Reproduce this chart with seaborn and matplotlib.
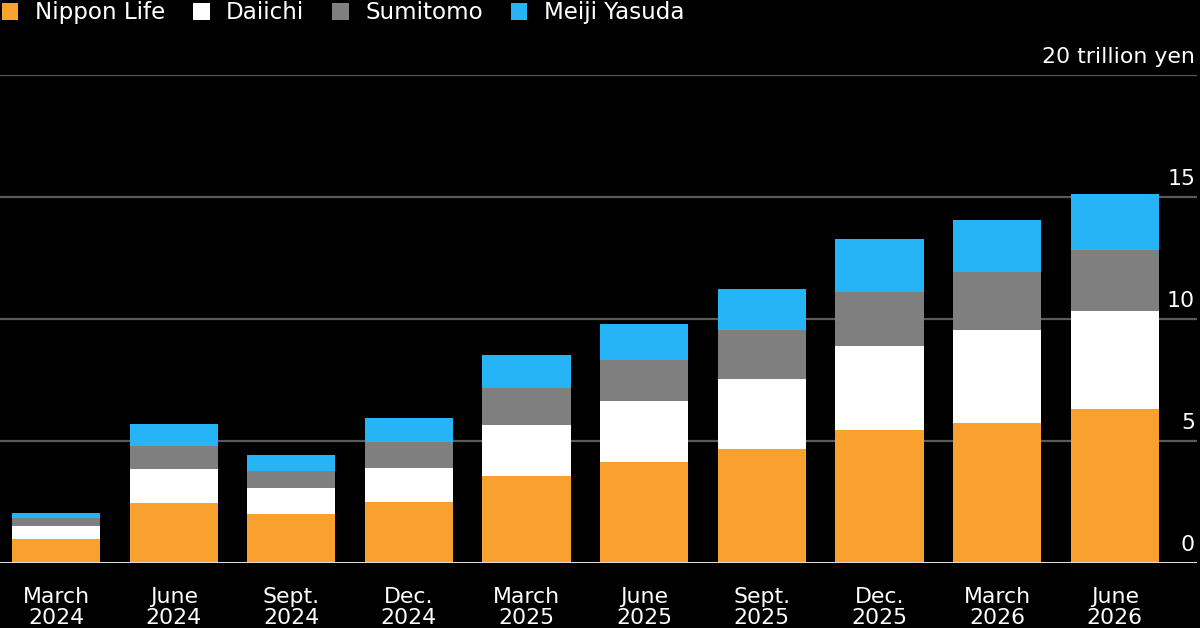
import numpy as np
import pandas as pd
import matplotlib
matplotlib.use("Agg")
import matplotlib.pyplot as plt
import matplotlib.transforms as mtransforms
from matplotlib.patches import Patch
import seaborn as sns

# ── Data (trillion yen) ───────────────────────────────────────────────────────
quarters = ["March\n2024", "June\n2024", "Sept.\n2024", "Dec.\n2024",
            "March\n2025", "June\n2025", "Sept.\n2025", "Dec.\n2025",
            "March\n2026", "June\n2026"]
nippon   = [1.00, 2.45, 2.01, 2.52, 3.57, 4.14, 4.69, 5.46, 5.73, 6.31]
daiichi  = [0.51, 1.39, 1.06, 1.37, 2.08, 2.49, 2.87, 3.45, 3.80, 4.03]
sumitomo = [0.35, 0.96, 0.72, 1.05, 1.51, 1.68, 1.98, 2.19, 2.38, 2.48]
meiji    = [0.19, 0.90, 0.64, 1.00, 1.36, 1.50, 1.71, 2.16, 2.16, 2.32]

series_names = ["Nippon Life", "Daiichi", "Sumitomo", "Meiji Yasuda"]
y_ticks      = [0, 5, 10, 15, 20]
y_tick_text  = ["0", "5", "10", "15", "20 trillion yen"]

# ── Style ─────────────────────────────────────────────────────────────────────
COLORS = ["#F9A12E", "#FFFFFF", "#7F7F7F", "#27B4F6"]
BG = "#000000"
sns.set_style("dark")
plt.rcParams["font.family"] = ["DejaVu Sans"]
FS = 15.8

df = pd.DataFrame({"quarter": quarters, "Nippon Life": nippon, "Daiichi": daiichi,
                   "Sumitomo": sumitomo, "Meiji Yasuda": meiji})
stack = df[series_names].cumsum(axis=1)

fig = plt.figure(figsize=(12, 6.28), dpi=100, facecolor=BG)
ax = fig.add_axes([0.0, 1 - 563 / 628, 1197 / 1200, (563 - 75) / 628])
ax.set_facecolor(BG)

# gridlines first so bars sit on top
for v in y_ticks[1:]:
    ax.axhline(v, color="#5A5A5A", linewidth=1.6, zorder=0)

# stacked bars: draw cumulative totals from the top layer down
for name, color in reversed(list(zip(series_names, COLORS))):
    sns.barplot(x=df["quarter"], y=stack[name], color=color, width=0.75,
                linewidth=0, saturation=1, order=quarters, ax=ax, zorder=2)

ax.axhline(0, color="#DCDCDC", linewidth=2.2, zorder=3)

ax.set_xlim(-0.476, 9.70)
ax.set_ylim(0, 20)
ax.set_xlabel("")
ax.set_ylabel("")
ax.set_yticks([])
ax.grid(False)
for s in ax.spines.values():
    s.set_visible(False)

ax.set_xticks(range(len(quarters)))
ax.set_xticklabels(quarters, fontsize=FS, color="white", linespacing=1.05)
ax.tick_params(axis="x", colors="white", length=8.6, width=1.6, pad=9, direction="out")
for lab in ax.get_xticklabels():
    lab.set_color("white")

# y labels sit above their gridlines, right-aligned inside the plot
trans = mtransforms.blended_transform_factory(ax.transAxes, ax.transData)
for v, t in zip(y_ticks, y_tick_text):
    ax.annotate(t, xy=(1 - 2 / 1197, v), xycoords=trans,
                xytext=(0, 8.6), textcoords="offset points",
                ha="right", va="baseline", fontsize=FS, color="white")

# legend across the top
handles = [Patch(facecolor=c, edgecolor=c, linewidth=0) for c in COLORS]
fig.legend(handles, series_names, loc="upper left", bbox_to_anchor=(0.0015, 0.998),
           ncol=4, frameon=False, fontsize=16.6, labelcolor="white",
           handlelength=0.72, handleheight=0.78, handletextpad=0.72,
           columnspacing=1.2, borderpad=0, borderaxespad=0)

fig.savefig("out.png", dpi=100, facecolor=BG)
